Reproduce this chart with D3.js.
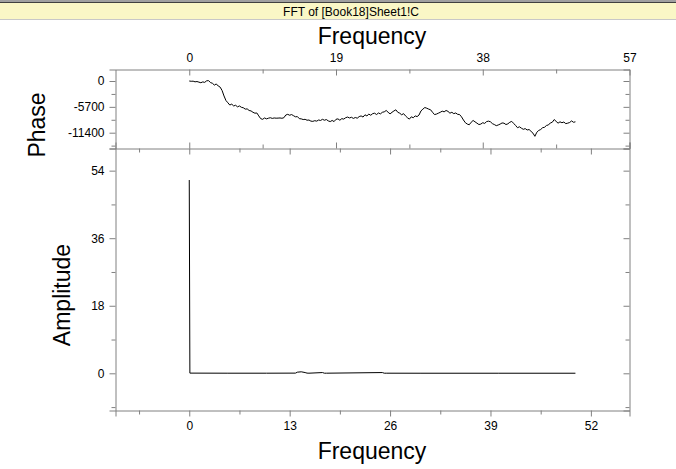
<!DOCTYPE html>
<html>
<head>
<meta charset="utf-8">
<script src="https://cdn.jsdelivr.net/npm/d3@7"></script>
<style>
  html, body { margin: 0; padding: 0; background: #fff; }
  svg { display: block; font-family: "Liberation Sans", Arial, sans-serif; }
</style>
</head>
<body>
<svg id="chart" width="676" height="469"></svg>
<script>
// ---- Data ----
const titleText = "FFT of [Book18]Sheet1!C";
const phaseStep = 0.25; // FFT frequency bin spacing
const phaseValues = [
  0, -60, -40, -180, -120, -250, -380, -200, -300, 40,
  80, -350, -500, -900, -650, -1100, -1350, -2100, -3300, -4300,
  -4800, -5300, -5100, -5500, -5350, -5700, -5500, -5800, -5900, -6200,
  -6150, -6500, -6600, -6900, -7100, -7050, -7700, -8300, -8450, -8150,
  -8350, -8200, -8100, -8250, -8150, -8200, -8180, -8150, -8220, -8100,
  -7500, -7350, -7550, -7400, -7650, -7900, -7850, -8300, -8350, -8500,
  -8450, -8650, -8600, -8850, -8900, -8750, -8850, -8600, -8700, -8450,
  -8650, -8500, -8800, -8950, -8700, -8950, -8450, -8350, -8650, -8300,
  -8400, -8100, -7950, -8150, -8000, -8250, -8050, -8200, -7850, -7700,
  -7950, -7450, -7700, -7300, -7550, -7200, -7100, -7400, -7050, -7250,
  -6900, -6800, -6500, -6900, -7250, -6900, -6600, -6350, -6900, -7100,
  -7450, -7200, -7700, -8100, -8400, -7900, -8100, -7700, -7850, -7500,
  -6600, -6200, -5850, -6000, -6200, -6350, -6900, -7400, -7300, -7100,
  -6900, -6650, -6800, -6500, -6700, -7100, -6900, -7200, -7050, -7350,
  -7400, -7900, -8600, -9200, -9500, -9650, -9100, -8700, -9000, -9300,
  -9600, -9500, -9200, -9350, -8950, -8850, -9000, -9400, -9600, -9850,
  -9700, -9500, -9250, -9300, -9600, -9450, -9100, -8900, -9350, -9800,
  -10300, -10100, -10400, -10650, -10500, -10800, -10700, -11100, -11500, -12200,
  -11300, -10900, -10700, -10300, -10200, -9800, -9700, -9250, -9100, -8500,
  -8900, -9300, -9000, -9200, -9050, -9400, -9300, -9150, -8800, -9100,
  -9000
];
const ampFreq  = [0, 0.08, 5, 10, 13.75, 14, 14.5, 15, 15.25, 15.5, 17.25, 17.5, 17.75, 25, 25.25, 25.5, 30, 40, 50];
const ampValue = [51.5, 0.05, 0.03, 0.03, 0.05, 0.3, 0.4, 0.2, 0.05, 0.03, 0.2, 0.03, 0.03, 0.2, 0.03, 0.03, 0.02, 0.02, 0.02];

const topTicks = [0, 19, 38, 57];
const topMinor = [9.5, 28.5, 47.5];
const bottomTicks = [0, 13, 26, 39, 52];
const bottomMinor = [-6.5, 6.5, 19.5, 32.5, 45.5];
const phaseTicks = [0, -5700, -11400];
const phaseMinor = [-2850, -8550, -14250];
const ampTicks = [0, 18, 36, 54];
const ampMinor = [-9, 9, 27, 45];

// ---- Layout ----
const L = 115.5, R = 629.5;
const pTop = 69.5, pBot = 148.5, aTop = 148.5, aBot = 410.5;
const axisColor = "#808080";
const fmt = d => String(d);

const svg = d3.select("#chart");

// Title bar
svg.append("rect").attr("x", 0).attr("y", 0).attr("width", 676).attr("height", 3).attr("fill", "#a0a0a0");
svg.append("line").attr("x1", 0).attr("x2", 676).attr("y1", 2.5).attr("y2", 2.5).attr("stroke", "#404040");
svg.append("rect").attr("x", 0).attr("y", 3).attr("width", 676).attr("height", 16).attr("fill", "#faf7c6");
svg.append("line").attr("x1", 0).attr("x2", 676).attr("y1", 19.5).attr("y2", 19.5).attr("stroke", "#c8c8c8");
svg.append("text").attr("x", 351).attr("y", 16).attr("text-anchor", "middle")
  .attr("font-size", 12).attr("fill", "#000").text(titleText);

// Scales
const x = d3.scaleLinear().domain([-9.55, 57]).range([L, R]);
const yP = d3.scaleLinear().domain([2536, -14884]).range([pTop, pBot]);
const yA = d3.scaleLinear().domain([59.9, -9.91]).range([aTop, aBot]);

function axisGroup(axis, tx, ty) {
  const g = svg.append("g").attr("transform", `translate(${tx},${ty})`).call(axis);
  g.select(".domain").attr("stroke", axisColor);
  g.selectAll(".tick line").attr("stroke", axisColor);
  g.selectAll(".tick text").attr("fill", "#000").attr("font-size", 12)
    .attr("font-family", "Liberation Sans, Arial, sans-serif");
  return g;
}
function minorGroup(axis, tx, ty) {
  const g = svg.append("g").attr("transform", `translate(${tx},${ty})`).call(axis);
  g.select(".domain").remove();
  g.selectAll(".tick line").attr("stroke", axisColor);
  g.selectAll(".tick text").remove();
  return g;
}

// --- Phase panel ---
const topAx = axisGroup(d3.axisTop(x).tickValues(topTicks).tickSize(0).tickPadding(8).tickFormat(fmt), 0, pTop);
topAx.selectAll(".tick text").attr("dy", "0");
minorGroup(d3.axisBottom(x).tickValues(topTicks).tickSize(6), 0, pTop);
minorGroup(d3.axisBottom(x).tickValues(topMinor).tickSize(4), 0, pTop);
axisGroup(d3.axisTop(x).tickValues(topTicks).tickSize(6).tickFormat(""), 0, pBot);
minorGroup(d3.axisTop(x).tickValues(topMinor).tickSize(4), 0, pBot);
axisGroup(d3.axisLeft(yP).tickValues(phaseTicks).tickSize(6).tickPadding(5).tickFormat(fmt), L, 0);
minorGroup(d3.axisLeft(yP).tickValues(phaseMinor).tickSize(4), L, 0);
axisGroup(d3.axisLeft(yP).tickValues(phaseTicks).tickSize(6).tickFormat(""), R, 0);
minorGroup(d3.axisLeft(yP).tickValues(phaseMinor).tickSize(4), R, 0);

// --- Amplitude panel ---
minorGroup(d3.axisBottom(x).tickValues(bottomTicks).tickSize(6), 0, aTop);
minorGroup(d3.axisBottom(x).tickValues(bottomMinor).tickSize(4), 0, aTop);
axisGroup(d3.axisBottom(x).tickValues(bottomTicks).tickSize(6).tickPadding(5).tickFormat(fmt), 0, aBot);
minorGroup(d3.axisBottom(x).tickValues(bottomMinor).tickSize(4), 0, aBot);
axisGroup(d3.axisLeft(yA).tickValues(ampTicks).tickSize(6).tickPadding(5).tickFormat(fmt), L, 0);
minorGroup(d3.axisLeft(yA).tickValues(ampMinor).tickSize(4), L, 0);
axisGroup(d3.axisLeft(yA).tickValues(ampTicks).tickSize(6).tickFormat(""), R, 0);
minorGroup(d3.axisLeft(yA).tickValues(ampMinor).tickSize(4), R, 0);

// Data lines
const phaseLine = d3.line().x((d, i) => x(i * phaseStep)).y(d => yP(d));
svg.append("path").datum(phaseValues).attr("d", phaseLine)
  .attr("fill", "none").attr("stroke", "#000").attr("stroke-width", 1);

const ampLine = d3.line().x((d, i) => x(ampFreq[i])).y(d => yA(d));
svg.append("path").datum(ampValue).attr("d", ampLine)
  .attr("fill", "none").attr("stroke", "#000").attr("stroke-width", 1);

// Axis titles
svg.append("text").attr("x", 372).attr("y", 44).attr("text-anchor", "middle")
  .attr("font-size", 23).attr("fill", "#000").text("Frequency");
svg.append("text").attr("x", 372).attr("y", 459).attr("text-anchor", "middle")
  .attr("font-size", 23).attr("fill", "#000").text("Frequency");
svg.append("text").attr("transform", "translate(45,125) rotate(-90)").attr("text-anchor", "middle")
  .attr("font-size", 23).attr("fill", "#000").text("Phase");
svg.append("text").attr("transform", "translate(70,295) rotate(-90)").attr("text-anchor", "middle")
  .attr("font-size", 23).attr("fill", "#000").text("Amplitude");
</script>
</body>
</html>
